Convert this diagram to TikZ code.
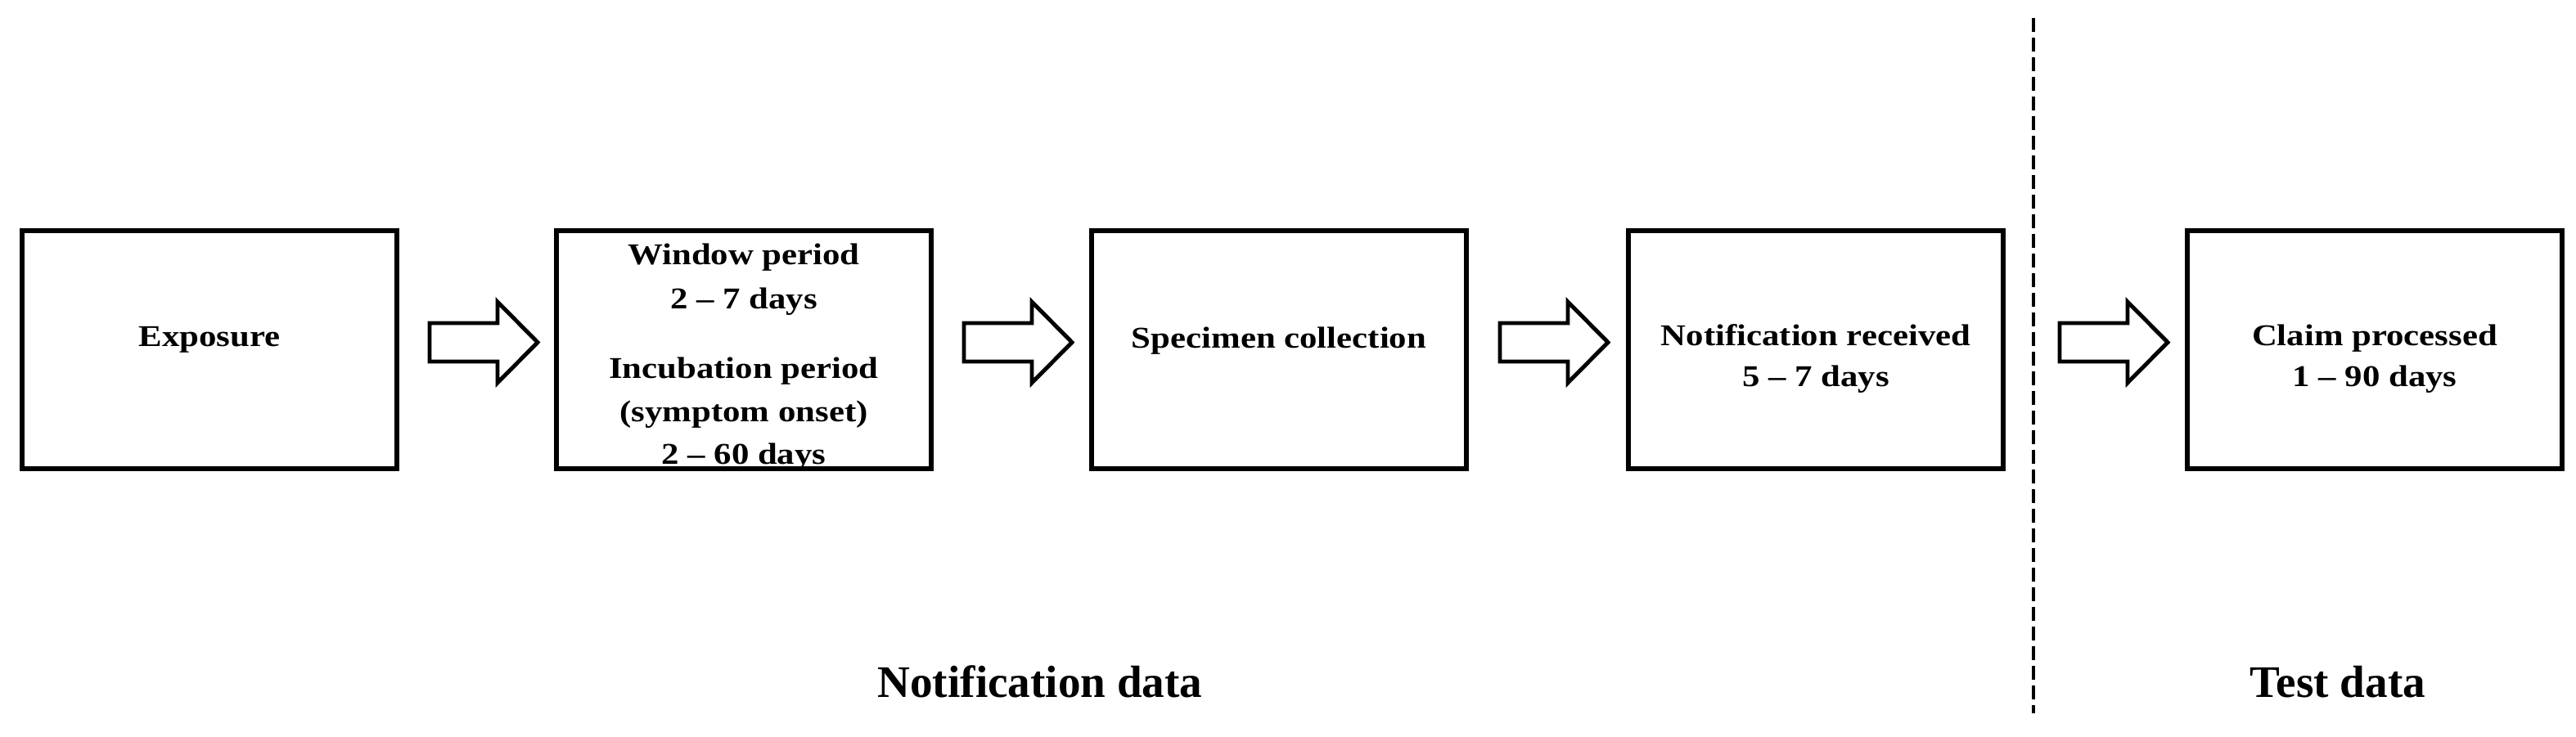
\documentclass[tikz,border=0pt]{standalone}
\usepackage{fontspec}
\setmainfont{Liberation Serif}
\newfontfamily\boxfont{Liberation Serif}[FakeStretch=1.16]
\usetikzlibrary{calc}
\tikzset{
  box/.style={draw=black, line width=1.7pt, minimum width=4.58cm, minimum height=2.91cm, inner sep=0pt, outer sep=0pt},
  boxtxt/.style={anchor=base, inner sep=0pt, font=\boxfont\fontsize{10.5}{12}\selectfont\bfseries},
  sectxt/.style={anchor=base, inner sep=0pt, font=\fontsize{15.7}{18}\selectfont\bfseries},
  arrowline/.style={draw=black, line width=1.4pt, line join=miter, fill=white},
  divider/.style={draw=black, line width=1.4pt, dash pattern=on 0.17cm off 0.07cm},
  barrow/.pic={\path[arrowline] (0,0.235) -- (0.83,0.235) -- (0.83,0.495) -- (1.32,0) -- (0.83,-0.495) -- (0.83,-0.235) -- (0,-0.235) -- cycle;}
}
\begin{document}
\begin{tikzpicture}
\useasboundingbox (0,0) rectangle (31.48,-9);
% texts
\node[boxtxt] (t1) at (2.56,-4.23) {Exposure};
\node[boxtxt] (t2a) at (9.09,-3.23) {Window period};
\node[boxtxt] (t2b) at (9.09,-3.77) {2 – 7 days};
\node[boxtxt] (t2c) at (9.09,-4.62) {Incubation period};
\node[boxtxt] (t2d) at (9.09,-5.15) {(symptom onset)};
\node[boxtxt] (t2e) at (9.09,-5.67) {2 – 60 days};
\node[boxtxt] (t3) at (15.63,-4.25) {Specimen collection};
\node[boxtxt] (t4a) at (22.19,-4.22) {Notification received};
\node[boxtxt] (t4b) at (22.19,-4.72) {5 – 7 days};
\node[boxtxt] (t5a) at (29.02,-4.22) {Claim processed};
\node[boxtxt] (t5b) at (29.02,-4.72) {1 – 90 days};
\node[sectxt] (s1) at (12.71,-8.52) {Notification data};
\node[sectxt] (s2) at (28.57,-8.52) {Test data};
% boxes
\node[box] (b1) at (2.56,-4.275) {};
\node[box] (b2) at (9.09,-4.275) {};
\node[box] (b3) at (15.63,-4.275) {};
\node[box] (b4) at (22.19,-4.275) {};
\node[box] (b5) at (29.02,-4.275) {};
% block arrows
\pic at ($(b1.east)+(0.40,0.09)$) {barrow};
\pic at ($(b2.east)+(0.40,0.09)$) {barrow};
\pic at ($(b3.east)+(0.41,0.09)$) {barrow};
\pic at ($(b4.east)+(0.69,0.09)$) {barrow};
% divider
\coordinate (dtop) at (24.85,-0.22);
\coordinate (dbot) at (24.85,-8.72);
\draw[divider] (dtop) -- (dbot);
\end{tikzpicture}
\end{document}
